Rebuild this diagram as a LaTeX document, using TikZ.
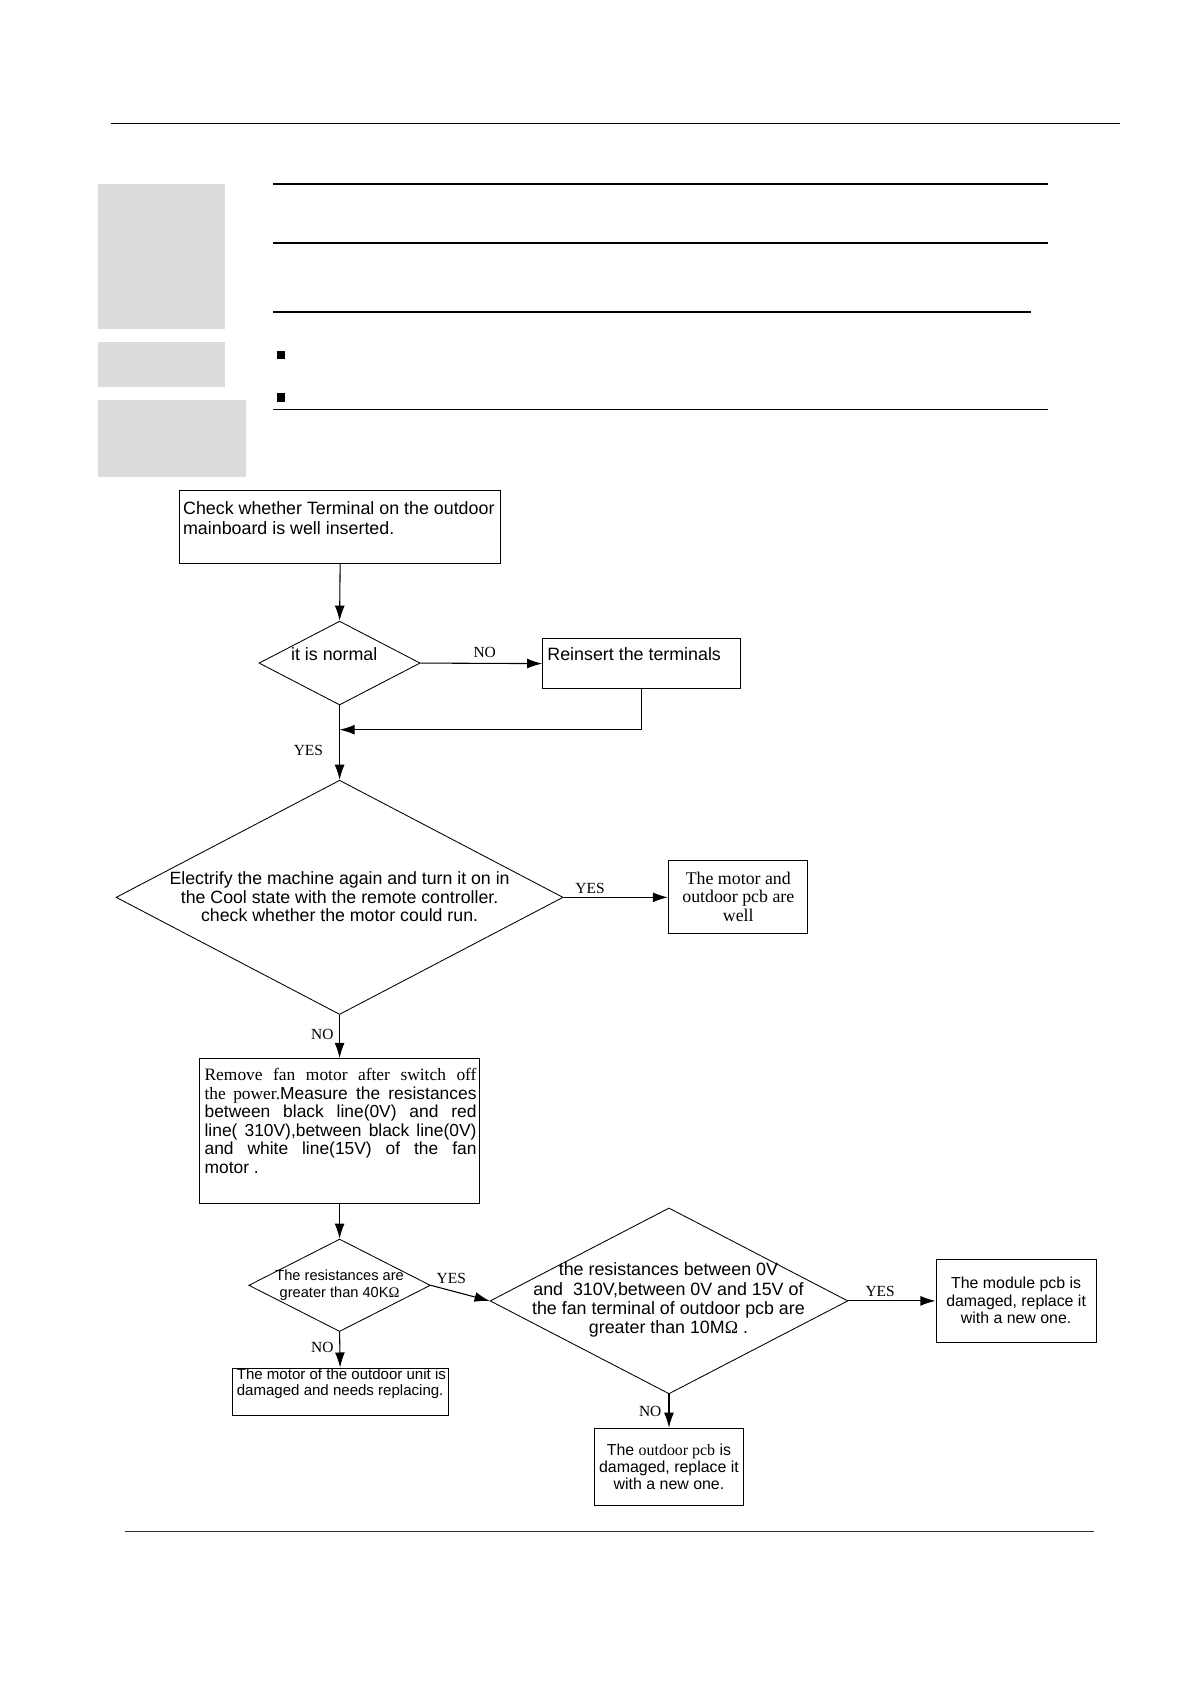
\documentclass[tikz,border=0pt]{standalone}
\usepackage{fontspec}
\setmainfont{Liberation Serif}
\setsansfont{Liberation Sans}
\usetikzlibrary{shapes.geometric,arrows.meta}
\definecolor{panel}{HTML}{DCDCDC}
\begin{document}
\begin{tikzpicture}[x=0.5pt,y=-0.5pt,
  box/.style={draw, line width=0.5pt, inner sep=0pt},
  dia/.style={diamond, draw, line width=0.4pt, inner sep=0pt},
  arr/.style={-{Latex[length=7pt,width=4.6pt]}, line width=0.5pt},
  lab/.style={font=\fontsize{7.2}{8}\selectfont\rmfamily, inner sep=0pt},
  txt/.style={font=\fontsize{8.3}{9}\selectfont\sffamily, inner sep=0pt},
  rule/.style={line width=0.6pt},
  thickrule/.style={line width=0.95pt}]
\useasboundingbox (0,0) rectangle (1108,1567);
\fill[white] (0,0) rectangle (1108,1567);

% page furniture
\draw[rule] (103,115) -- (1042,115);
\fill[panel] (91,171) rectangle (209,306);
\fill[panel] (91,318) rectangle (209,360);
\fill[panel] (91,372) rectangle (229,444);
\draw[thickrule] (254,171) -- (975,171);
\draw[thickrule] (254,226) -- (975,226);
\draw[thickrule] (254,290) -- (959,290);
\fill[black] (258,327) rectangle (265,334);
\fill[black] (258,366) rectangle (265,374);
\draw[rule] (254,381) -- (975,381);
\draw[line width=0.7pt, black!80] (116,1425) -- (1018,1425);

% shapes
\node[box, minimum width=149.5pt, minimum height=34pt] (A) at (316.5,490) {};
\node[dia, minimum width=75pt, minimum height=39pt] (B) at (316,617) {};
\node[box, minimum width=92pt, minimum height=23.5pt] (C) at (597,617.5) {};
\node[dia, minimum width=208pt, minimum height=109pt] (D) at (316,835) {};
\node[box, minimum width=64.5pt, minimum height=34pt] (E) at (686.5,835) {};
\node[box, minimum width=130pt, minimum height=67.5pt] (F) at (316,1052.5) {};
\node[dia, minimum width=84.5pt, minimum height=43pt] (G) at (316,1196) {};
\node[dia, minimum width=166.5pt, minimum height=86.5pt] (H) at (622.5,1210.5) {};
\node[box, minimum width=74.5pt, minimum height=38.5pt] (I) at (945.5,1210.5) {};
\node[box, minimum width=69.5pt, minimum height=36pt] (J) at (622.5,1365) {};
\node[box, minimum width=100.5pt, minimum height=22pt] (K) at (316.5,1295) {};

% texts
\node[txt, align=left, anchor=west] (tA) at (170,482) {Check whether Terminal on the outdoor\\mainboard is well inserted.};
\node[txt] (tB) at (311,609) {it is normal};
\node[txt, anchor=west] (tC) at (509,609) {Reinsert the terminals};
\node[txt, font=\fontsize{8.25}{8.75}\selectfont\sffamily, align=center] (tD) at (316,834.5) {Electrify the machine again and turn it on in\\the Cool state with the remote controller.\\check whether the motor could run.};
\node[lab, font=\fontsize{8.3}{8.75}\selectfont\rmfamily, align=center] (tE) at (687,834.5) {The motor and\\outdoor pcb are\\well};
\node[txt, font=\fontsize{8.1}{8.6}\selectfont\sffamily, align=left, anchor=west] (tF) at (190,1043) {%
\makebox[126.5pt][s]{\rmfamily Remove fan motor after switch off}\\
\makebox[126.5pt][s]{{\rmfamily the power.}Measure the resistances}\\
\makebox[126.5pt][s]{between black line(0V) and red}\\
\makebox[126.5pt][s]{line( 310V),between black line(0V)}\\
\makebox[126.5pt][s]{and white line(15V) of the fan}\\
motor .};
\node[txt, font=\fontsize{6.8}{8}\selectfont\sffamily, align=center] (tG) at (316,1196) {The resistances are\\greater than 40K{\rmfamily Ω}};
\node[txt, align=center] (tH) at (622,1210) {the resistances between 0V\\and\ \ 310V,between 0V and 15V of\\the fan terminal of outdoor pcb are\\greater than 10M{\rmfamily Ω} .};
\node[txt, font=\fontsize{7.4}{8}\selectfont\sffamily, align=center] (tI) at (945.5,1210) {The module pcb is\\damaged, replace it\\with a new one.};
\node[txt, font=\fontsize{7.4}{8}\selectfont\sffamily, align=center] (tJ) at (622.5,1365) {The {\rmfamily outdoor pcb} is\\damaged, replace it\\with a new one.};
\node[txt, font=\fontsize{7}{7.5}\selectfont\sffamily, align=left, anchor=west] (tK) at (220,1287.5) {The motor of the outdoor unit is\\damaged and needs replacing.};

% labels
\node[lab] (l1) at (451,607) {NO};
\node[lab] (l2) at (287,698) {YES};
\node[lab] (l3) at (549,827) {YES};
\node[lab] (l4) at (300,963) {NO};
\node[lab] (l5) at (420,1190) {YES};
\node[lab] (l6) at (300,1254) {NO};
\node[lab] (l7) at (819,1202) {YES};
\node[lab] (l8) at (605,1313) {NO};

% connectors
\coordinate (m) at (316,679);
\draw[arr] (A.south) -- (B.north);
\draw[arr] (B.east) -- (C.west);
\draw[arr] (C.south) |- (m);
\draw[arr] (B.south) -- (D.north);
\draw[arr] (D.east) -- (E.west);
\draw[arr] (D.south) -- (F.north);
\draw[arr] (F.south) -- (G.north);
\draw[arr] (G.east) -- (H.west);
\draw[arr] (G.south) -- (K.north);
\draw[arr] (H.east) -- (I.west);
\draw[arr] (H.south) -- (J.north);
\end{tikzpicture}
\end{document}
